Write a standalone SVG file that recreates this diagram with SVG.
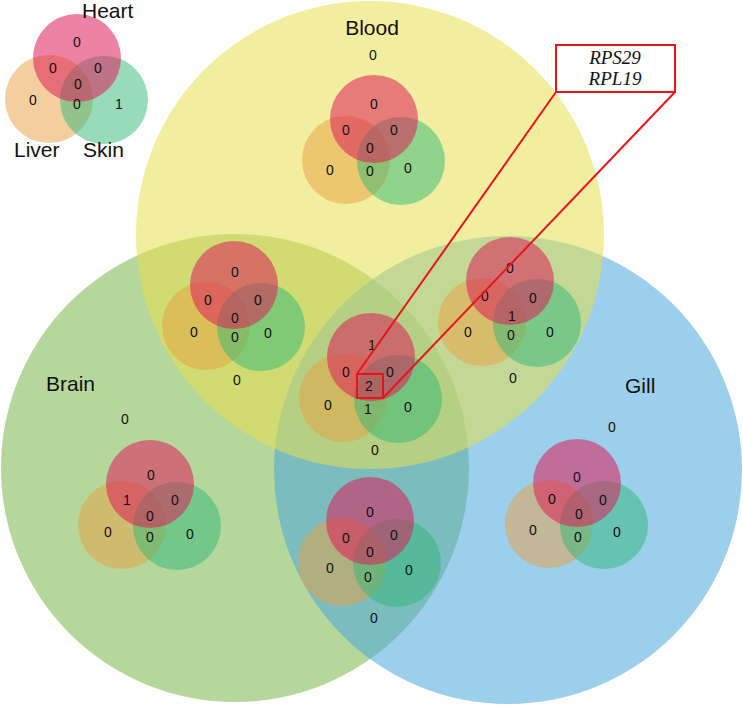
<svg xmlns="http://www.w3.org/2000/svg" xmlns:xlink="http://www.w3.org/1999/xlink" width="743" height="706" viewBox="0 0 743 706">
<style>
.n{font-family:"Liberation Sans",Arial,sans-serif;font-size:14px;fill:#111;text-anchor:middle}
.lab{font-family:"Liberation Sans",Arial,sans-serif;font-size:21px;fill:#111}
.gene{font-family:"Liberation Serif","Times New Roman",serif;font-style:italic;font-size:19px;fill:#111;text-anchor:middle}
.h{fill:#dc1e5a;fill-opacity:0.55}
.l{fill:#e8a040;fill-opacity:0.5}
.s{fill:#30b878;fill-opacity:0.5}
.red{fill:none;stroke:#e8141c;stroke-width:2}
</style>
<defs>
<g id="v3">
<circle class="l" cx="-28" cy="41" r="44"/>
<circle class="s" cx="27" cy="42" r="44"/>
<circle class="h" cx="0" cy="0" r="44"/>
</g>
</defs>
<rect width="743" height="706" fill="#fff"/>
<g id="brain">
<circle cx="235" cy="468" r="234" fill="#7ab648" fill-opacity="0.55"/>
<text class="lab" x="46" y="391">Brain</text>
</g>
<g id="gill">
<circle cx="508" cy="470" r="234" fill="#4aa8dc" fill-opacity="0.55"/>
<text class="lab" x="625" y="393">Gill</text>
</g>
<g id="blood">
<circle cx="370" cy="235" r="234" fill="#e6e050" fill-opacity="0.55"/>
<text class="lab" x="372" y="35" text-anchor="middle">Blood</text>
</g>
<g id="legend">
<use xlink:href="#v3" transform="translate(77,58)"/>
<text class="lab" x="82" y="18">Heart</text>
<text class="lab" x="14" y="157">Liver</text>
<text class="lab" x="83" y="157">Skin</text>
<text class="n" x="77" y="47">0</text>
<text class="n" x="53" y="73">0</text>
<text class="n" x="98" y="73">0</text>
<text class="n" x="78" y="89">0</text>
<text class="n" x="33" y="105">0</text>
<text class="n" x="77" y="109">0</text>
<text class="n" x="119" y="109">1</text>
</g>
<g id="venn-blood">
<use xlink:href="#v3" transform="translate(374,119)"/>
<text class="n" x="373" y="60">0</text>
<text class="n" x="374" y="109">0</text>
<text class="n" x="346" y="135">0</text>
<text class="n" x="394" y="135">0</text>
<text class="n" x="370" y="153">0</text>
<text class="n" x="330" y="175">0</text>
<text class="n" x="370" y="176">0</text>
<text class="n" x="408" y="173">0</text>
</g>
<g id="venn-blood-brain">
<use xlink:href="#v3" transform="translate(234,285)"/>
<text class="n" x="235" y="277">0</text>
<text class="n" x="208" y="305">0</text>
<text class="n" x="258" y="305">0</text>
<text class="n" x="235" y="323">0</text>
<text class="n" x="194" y="337">0</text>
<text class="n" x="235" y="342">0</text>
<text class="n" x="268" y="338">0</text>
<text class="n" x="237" y="385">0</text>
</g>
<g id="venn-blood-gill">
<use xlink:href="#v3" transform="translate(510,281)"/>
<text class="n" x="510" y="273">0</text>
<text class="n" x="485" y="301">0</text>
<text class="n" x="533" y="303">0</text>
<text class="n" x="512" y="321">1</text>
<text class="n" x="468" y="337">0</text>
<text class="n" x="511" y="340">0</text>
<text class="n" x="550" y="337">0</text>
<text class="n" x="513" y="383">0</text>
</g>
<g id="venn-all">
<use xlink:href="#v3" transform="translate(371,357)"/>
<text class="n" x="372" y="350">1</text>
<text class="n" x="346" y="377">0</text>
<text class="n" x="390" y="377">0</text>
<text class="n" x="369" y="391">2</text>
<text class="n" x="328" y="410">0</text>
<text class="n" x="368" y="414">1</text>
<text class="n" x="408" y="412">0</text>
<text class="n" x="375" y="455">0</text>
</g>
<g id="venn-brain">
<use xlink:href="#v3" transform="translate(150,484)"/>
<text class="n" x="125" y="424">0</text>
<text class="n" x="151" y="480">0</text>
<text class="n" x="127" y="505">1</text>
<text class="n" x="175" y="505">0</text>
<text class="n" x="150" y="521">0</text>
<text class="n" x="108" y="537">0</text>
<text class="n" x="150" y="542">0</text>
<text class="n" x="190" y="539">0</text>
</g>
<g id="venn-brain-gill">
<use xlink:href="#v3" transform="translate(370,521)"/>
<text class="n" x="370" y="517">0</text>
<text class="n" x="346" y="543">0</text>
<text class="n" x="394" y="540">0</text>
<text class="n" x="370" y="557">0</text>
<text class="n" x="330" y="573">0</text>
<text class="n" x="368" y="582">0</text>
<text class="n" x="409" y="575">0</text>
<text class="n" x="374" y="623">0</text>
</g>
<g id="venn-gill">
<use xlink:href="#v3" transform="translate(577,483)"/>
<text class="n" x="612" y="432">0</text>
<text class="n" x="577" y="482">0</text>
<text class="n" x="552" y="504">0</text>
<text class="n" x="603" y="505">0</text>
<text class="n" x="579" y="519">0</text>
<text class="n" x="533" y="535">0</text>
<text class="n" x="578" y="542">0</text>
<text class="n" x="617" y="537">0</text>
</g>
<g id="callout">
<rect x="556" y="45" width="119" height="47" fill="#fff" stroke="#e8141c" stroke-width="2"/>
<text class="gene" x="615" y="64">RPS29</text>
<text class="gene" x="615" y="85">RPL19</text>
</g>
<g id="connectors">
<rect class="red" x="357" y="374" width="26" height="24"/>
<line class="red" x1="357" y1="374" x2="556" y2="92"/>
<line class="red" x1="383" y1="398" x2="675" y2="92"/>
</g>
</svg>
